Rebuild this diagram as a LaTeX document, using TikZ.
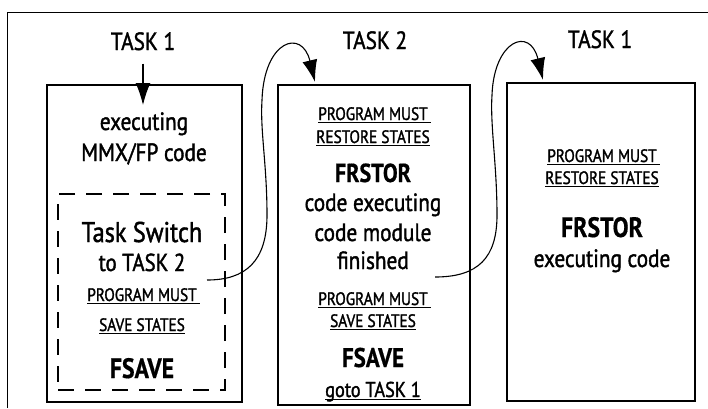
\documentclass[tikz,border=0pt]{standalone}
\usepackage{fontspec}
\setmainfont[FakeStretch=0.85, FakeBold=1.5, BoldFeatures={FakeBold=0.6}]{PT Sans}
\usepackage{tikz}
\usetikzlibrary{positioning}
\usetikzlibrary{arrows.meta}
% underline just below the baseline, optionally running on a bit to the right
\newcommand{\ulx}[2][0pt]{\setbox0\hbox{#2}\rlap{\rule[-3pt]{\dimexpr\wd0+#1\relax}{1.3pt}}\box0}

\begin{document}
\begin{tikzpicture}[
  x=1pt, y=-1pt,
  taskbox/.style={draw, line width=1.5pt, inner sep=0pt},
  switchbox/.style={draw, line width=1.3pt, inner sep=0pt, dash pattern=on 16pt off 11pt},
  lbl/.style={inner sep=0pt, anchor=base, font=\fontsize{25}{29}\selectfont},
  big/.style={lbl, font=\fontsize{28.5}{32}\selectfont},
  small/.style={lbl, font=\fontsize{18}{21}\selectfont},
  cmd/.style={lbl, font=\fontsize{28}{32}\selectfont\bfseries},
  jump/.style={-{Latex[length=22pt,width=15pt]}, line width=1.1pt}
]

\useasboundingbox (0,0) rectangle (708,408);
\draw[line width=0.9pt] (7,408) |- (708,12);

% the three tasks
\node[taskbox, minimum width=195pt, minimum height=317pt] (box1) at (144.5,243.5) {};
\node[taskbox, minimum width=192pt, minimum height=320pt] (box2) at (374,245) {};
\node[taskbox, minimum width=188pt, minimum height=318pt] (box3) at (601,242) {};
\node[switchbox, minimum width=167pt, minimum height=196pt] (sw) at (141.5,292) {};

\node[lbl] (t1) at (143,50) {TASK 1};
\node[lbl] (t2) at (375,49) {TASK 2};
\node[lbl] (t3) at (600,48) {TASK 1};

% task 1
\node[lbl] (exec1) at (144,130) {executing};
\node[lbl] (mmx1) at (144,161) {MMX/FP code};
\node[big] (ts1) at (142,242) {Task Switch};
\node[lbl, font=\fontsize{24.5}{28}\selectfont] (to1) at (142,271) {to TASK 2};
\node[small] (pm1) at (142,301) {\ulx[3pt]{PROGRAM MUST}};
\node[small] (ss1) at (142,331) {\ulx{SAVE STATES}};
\node[cmd] (fs1) at (142,378) {FSAVE};

% task 2
\node[small] (pm2) at (373,120) {\ulx[3pt]{PROGRAM MUST}};
\node[small] (rs2) at (373,143) {\ulx{RESTORE STATES}};
\node[cmd, font=\fontsize{26}{30}\selectfont\bfseries] (fr2) at (373,182) {FRSTOR};
\node[lbl] (ce2) at (373,211) {code executing};
\node[lbl] (cm2) at (373,241) {code module};
\node[lbl] (fin2) at (373,269) {finished};
\node[small] (pm3) at (373,305) {\ulx[3pt]{PROGRAM MUST}};
\node[small] (ss3) at (373,327) {\ulx{SAVE STATES}};
\node[cmd, font=\fontsize{27}{30}\selectfont\bfseries] (fs2) at (373,367) {FSAVE};
\node[lbl, font=\fontsize{21.5}{25}\selectfont] (go2) at (373,397) {\ulx{goto TASK 1}};

% task 1 again
\node[small] (pm4) at (602,162) {\ulx[3pt]{PROGRAM MUST}};
\node[small] (rs4) at (602,184) {\ulx{RESTORE STATES}};
\node[cmd] (fr4) at (602,237) {FRSTOR};
\node[lbl] (ec4) at (602,267) {executing code};

\coordinate (in1) at (143,105);
\coordinate (s1) at (207,280);
\coordinate (e1) at (315,82);
\coordinate (s2) at (435,277);
\coordinate (e2) at (543,80);

\draw[jump, shorten <=13pt] (t1) -- (in1);
\draw[jump] (s1) .. controls (245,280) and (267,262) .. (267,215)
  .. controls (267,165) and (260,130) .. (262,100)
  .. controls (264,40) and (302,28) .. (e1);
\draw[jump] (s2) .. controls (478,277) and (497,258) .. (497,215)
  .. controls (497,165) and (490,125) .. (492,95)
  .. controls (494,40) and (530,26) .. (e2);

\end{tikzpicture}
\end{document}
